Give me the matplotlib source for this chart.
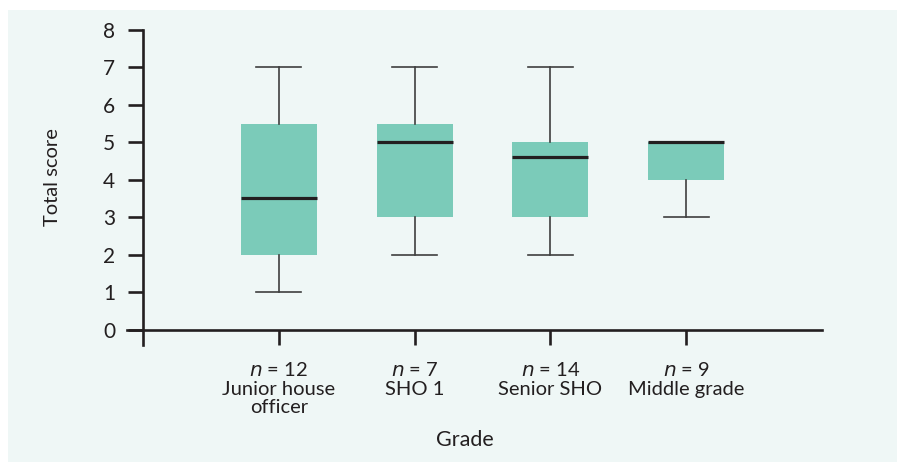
import matplotlib
matplotlib.use("Agg")
import matplotlib.pyplot as plt
from matplotlib.patches import Rectangle

plt.rcParams['font.family'] = ['Lato', 'DejaVu Sans']

# data
groups = ["Junior house\nofficer", "SHO 1", "Senior SHO", "Middle grade"]
n_vals = [12, 7, 14, 9]
whisker_lo = [1, 2, 2, 3]
q1 = [2, 3, 3, 4]
medians = [3.5, 5, 4.6, 5]
q3 = [5.5, 5.5, 5, 5]
whisker_hi = [7, 7, 7, 5]
yticks = [0, 1, 2, 3, 4, 5, 6, 7, 8]

bg = "#eff7f6"
box_col = "#7bcbb9"
ink = "#231f20"

fig = plt.figure(figsize=(8.97, 4.62), dpi=100)
fig.patch.set_facecolor("white")
# light panel behind the chart
fig.patches.append(Rectangle((8/897, 0), 1, 1 - 10/462, transform=fig.transFigure,
                             facecolor=bg, edgecolor="none", zorder=-1))

ax = fig.add_axes([143/897, 1 - 329.5/462, (822 - 143)/897, (329.5 - 30)/462])
ax.set_facecolor("none")

stats = []
for i in range(len(groups)):
    stats.append(dict(whislo=whisker_lo[i], q1=q1[i], med=medians[i],
                      q3=q3[i], whishi=whisker_hi[i], fliers=[]))

pos = list(range(1, len(groups) + 1))
ax.bxp(stats, positions=pos, widths=0.56, patch_artist=True, showfliers=False,
       boxprops=dict(facecolor=box_col, edgecolor=box_col, linewidth=0),
       medianprops=dict(color=ink, linewidth=2.3),
       whiskerprops=dict(color="#3f3f3f", linewidth=1.2),
       capprops=dict(color="#3f3f3f", linewidth=1.2),
       capwidths=0.33)

ax.set_xlim(0, 5)
ax.set_ylim(0, 8)
ax.set_yticks(yticks)
ax.set_xticks(pos)
ax.set_xticklabels(["$n$ = %d\n%s" % (n, g) for n, g in zip(n_vals, groups)],
                   linespacing=1.08)

for s in ["top", "right"]:
    ax.spines[s].set_visible(False)
for s in ["left", "bottom"]:
    ax.spines[s].set_linewidth(1.9)
    ax.spines[s].set_color(ink)
ax.spines["left"].set_bounds(-0.42, 8)
ax.spines["bottom"].set_bounds(-0.12, 5)

ax.tick_params(axis="both", length=11, width=1.9, color=ink, labelcolor=ink)
ax.tick_params(axis="y", labelsize=15, pad=9)
ax.tick_params(axis="x", labelsize=14.5, pad=12)

fig.text(52/897, 1 - 177/462, "Total score", rotation=90, ha="center", va="center",
         fontsize=14.5, color=ink)
fig.text(465/897, 1 - 440/462, "Grade", ha="center", va="center",
         fontsize=15.5, color=ink)

fig.savefig("out.png", dpi=100, facecolor=fig.get_facecolor())
